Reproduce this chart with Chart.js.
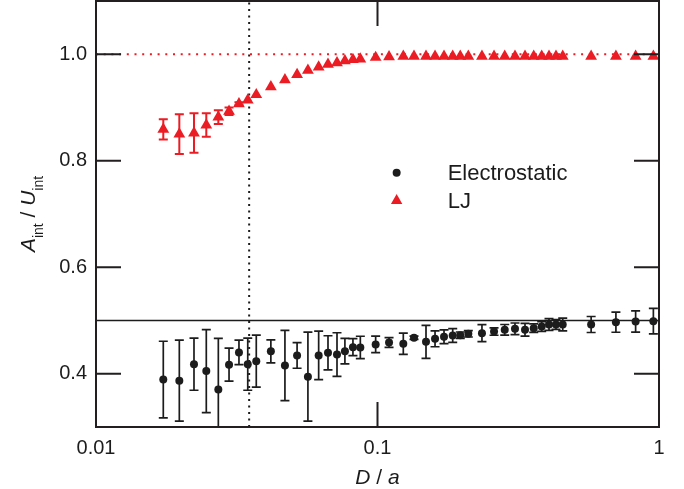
<!DOCTYPE html>
<html><head><meta charset="utf-8">
<script src="https://cdn.jsdelivr.net/npm/chart.js@4.4.1/dist/chart.umd.min.js"></script>
<style>html,body{margin:0;padding:0;background:#fff}canvas{display:block}</style>
</head><body>
<canvas id="c" width="684" height="489"></canvas>
<script>
// ---- data ----
const dOverA = [0.01734,0.01977,0.02229,0.02465,0.0272,0.02969,0.0322,0.0346,0.0371,0.0418,0.0469,0.0518,0.0566,0.0618,0.0667,0.0718,0.0766,0.0818,0.0869,0.0985,0.1099,
  0.1235,0.1348,0.1487,0.1601,0.1723,0.185,0.1968,0.2102,0.235,0.2594,0.2831,0.3079,0.3342,0.3589,0.3831,0.4067,0.4306,0.455,0.574,0.703,0.826,0.955];
const ljRatio = [0.859,0.850,0.852,0.867,0.882,0.893,0.907,0.914,0.924,0.939,0.952,0.962,0.970,0.976,0.981,0.984,0.9875,0.990,0.991,0.994,0.995,
  0.996,0.996,0.996,0.996,0.996,0.996,0.996,0.996,0.996,0.996,0.996,0.996,0.996,0.996,0.996,0.996,0.996,0.996,0.996,0.996,0.996,0.996];
const ljErr = [0.019,0.0375,0.037,0.022,0.013,0.007,0.003,0,0,0,0,0,0,0,0,0,0,0,0,0,0,
  0,0,0,0,0,0,0,0,0,0,0,0,0,0,0,0,0,0,0,0,0,0];
const elecRatio = [0.389,0.387,0.418,0.405,0.3705,0.417,0.440,0.418,0.4237,0.4422,0.4156,0.4343,0.3945,0.4345,0.4394,0.436,0.4424,0.450,0.4494,0.455,0.4587,
  0.4563,0.4675,0.460,0.4657,0.4694,0.4718,0.4724,0.475,0.4762,0.4793,0.4825,0.4843,0.4825,0.4856,0.4887,0.4925,0.4925,0.4925,0.4925,0.4969,0.498,0.4987];
const elecErr = [0.072,0.076,0.049,0.078,0.096,0.031,0.023,0.049,0.049,0.0216,0.066,0.024,0.0835,0.0455,0.032,0.041,0.024,0.016,0.021,0.0155,0.009,
  0.02,0.003,0.031,0.015,0.013,0.013,0.006,0.006,0.016,0.007,0.010,0.011,0.012,0.008,0.009,0.011,0.009,0.012,0.015,0.019,0.020,0.024];
const seriesNames = ['Electrostatic','LJ'];
const xTickLabels = [0.01, 0.1, 1];
const yTickLabels = [0.4, 0.6, 0.8, 1.0];
const ljLimit = 1.0;
const elecLimit = 0.5;
const dMarker = 0.035;
const xRange = [0.01, 1];
const yRange = [0.3, 1.1];

const RED = '#ec1c24';
const BLACK = '#1c1c1c';
const FONT = '"Liberation Sans", Arial, Helvetica, sans-serif';

const pts = (xs, ys) => xs.map((x, i) => ({x, y: ys[i]}));

const isLabelX = v => xTickLabels.some(t => Math.abs(t - v) / t < 1e-6);
const isLabelY = v => yTickLabels.some(t => Math.abs(t - v) < 1e-6);

const errorBars = {
  id: 'errorBars',
  beforeDatasetsDraw(chart) {
    const {ctx, chartArea: ca, scales: {x, y}} = chart;
    ctx.save();
    ctx.beginPath();
    ctx.rect(ca.left, ca.top, ca.right - ca.left, ca.bottom - ca.top);
    ctx.clip();
    const sets = [
      {ys: elecRatio, es: elecErr, color: BLACK, cap: 4.5, lw: 1.7},
      {ys: ljRatio, es: ljErr, color: RED, cap: 4.5, lw: 2}
    ];
    for (const s of sets) {
      ctx.strokeStyle = s.color;
      ctx.lineWidth = s.lw;
      dOverA.forEach((d, i) => {
        const e = s.es[i];
        if (!e) return;
        const px = x.getPixelForValue(d);
        const p1 = y.getPixelForValue(s.ys[i] + e);
        const p2 = y.getPixelForValue(s.ys[i] - e);
        ctx.beginPath();
        ctx.moveTo(px, p1); ctx.lineTo(px, p2);
        ctx.moveTo(px - s.cap, p1); ctx.lineTo(px + s.cap, p1);
        ctx.moveTo(px - s.cap, p2); ctx.lineTo(px + s.cap, p2);
        ctx.stroke();
      });
    }
    ctx.restore();
  }
};

const frame = {
  id: 'frame',
  afterDraw(chart) {
    const {ctx, chartArea: ca, scales: {x, y}} = chart;
    const {left, right, top, bottom} = ca;
    ctx.save();
    ctx.strokeStyle = '#231f20';
    ctx.lineWidth = 2;
    ctx.strokeRect(left, top, right - left, bottom - top);
    ctx.beginPath();
    for (const t of x.ticks) {
      const px = x.getPixelForValue(t.value);
      const L = isLabelX(t.value) ? 25 : 12;
      ctx.moveTo(px, bottom); ctx.lineTo(px, bottom - L);
      ctx.moveTo(px, top); ctx.lineTo(px, top + L);
    }
    for (const t of y.ticks) {
      const v = t.value;
      if (Math.abs(v - yRange[0]) < 1e-6 || Math.abs(v - yRange[1]) < 1e-6) continue;
      const py = y.getPixelForValue(v);
      const L = isLabelY(v) ? 25 : 12;
      ctx.moveTo(left, py); ctx.lineTo(left + L, py);
      ctx.moveTo(right, py); ctx.lineTo(right - L, py);
    }
    ctx.stroke();

    // axis titles
    ctx.fillStyle = BLACK;
    ctx.textBaseline = 'alphabetic';
    const big = '21px ' + FONT, bigI = 'italic 21px ' + FONT, small = '14px ' + FONT;
    const xParts = [['D', bigI, 0], [' / ', big, 0], ['a', bigI, 0]];
    drawParts(ctx, xParts, (left + right) / 2, 484);
    const yParts = [['A', bigI, 0], ['int', small, 8], [' / ', big, 0], ['U', bigI, 0], ['int', small, 8]];
    ctx.save();
    ctx.translate(35, (top + bottom) / 2);
    ctx.rotate(-Math.PI / 2);
    drawParts(ctx, yParts, 0, 0);
    ctx.restore();

    // legend
    const lx = left + (right - left) * 0.534;
    const ly1 = top + (bottom - top) * 0.403;
    const ly2 = ly1 + 28;
    ctx.fillStyle = BLACK;
    ctx.beginPath(); ctx.arc(lx, ly1, 4, 0, Math.PI * 2); ctx.fill();
    ctx.fillStyle = RED;
    const r = 6.6;
    ctx.beginPath();
    ctx.moveTo(lx, ly2 - r);
    ctx.lineTo(lx + r * Math.sin(2 * Math.PI / 3), ly2 + r * 0.5);
    ctx.lineTo(lx - r * Math.sin(2 * Math.PI / 3), ly2 + r * 0.5);
    ctx.closePath(); ctx.fill();
    ctx.fillStyle = BLACK;
    ctx.font = '22px ' + FONT;
    ctx.textAlign = 'left';
    ctx.fillText(seriesNames[0], lx + 51, ly1 + 7.8);
    ctx.fillText(seriesNames[1], lx + 51, ly2 + 7.8);
    ctx.restore();
  }
};

function drawParts(ctx, parts, cx, baseY) {
  let w = 0;
  for (const [t, f] of parts) { ctx.font = f; w += ctx.measureText(t).width; }
  let x = cx - w / 2;
  ctx.textAlign = 'left';
  for (const [t, f, dy] of parts) {
    ctx.font = f;
    ctx.fillText(t, x, baseY + dy);
    x += ctx.measureText(t).width;
  }
}

new Chart(document.getElementById('c'), {
  type: 'scatter',
  data: {
    datasets: [
      {label: seriesNames[0], data: pts(dOverA, elecRatio), pointStyle: 'circle', pointRadius: 4,
       backgroundColor: BLACK, borderWidth: 0, order: 1},
      {label: seriesNames[1], data: pts(dOverA, ljRatio), pointStyle: 'triangle', pointRadius: 6.8,
       backgroundColor: RED, borderWidth: 0, order: 2},
      {label: 'LJ limit', data: [{x: xRange[0], y: ljLimit}, {x: xRange[1], y: ljLimit}], showLine: true,
       borderColor: RED, borderWidth: 2, borderDash: [2, 5.7], pointRadius: 0, order: 10},
      {label: 'Electrostatic limit', data: [{x: xRange[0], y: elecLimit}, {x: xRange[1], y: elecLimit}], showLine: true,
       borderColor: BLACK, borderWidth: 1.6, pointRadius: 0, order: 9},
      {label: 'marker', data: [{x: dMarker, y: yRange[0]}, {x: dMarker, y: yRange[1]}], showLine: true,
       borderColor: BLACK, borderWidth: 2, borderDash: [2, 4.5], pointRadius: 0, order: 11}
    ]
  },
  options: {
    responsive: false,
    animation: false,
    devicePixelRatio: 1,
    layout: {autoPadding: false, padding: {top: 1, right: 25, left: 0, bottom: 0}},
    plugins: {legend: {display: false}, tooltip: {enabled: false}},
    scales: {
      x: {
        type: 'logarithmic', min: xRange[0], max: xRange[1],
        afterFit(s) { s.height = 62; s.paddingTop = 0; s.paddingBottom = 0; },
        grid: {display: false, drawTicks: false},
        border: {display: false},
        ticks: {
          autoSkip: false, maxRotation: 0, padding: 9, color: BLACK,
          font: {family: FONT, size: 20},
          callback: v => isLabelX(v) ? String(xTickLabels.find(t => Math.abs(t - v) / t < 1e-6)) : null
        }
      },
      y: {
        min: yRange[0], max: yRange[1],
        afterFit(s) { s.width = 96; s.paddingTop = 0; s.paddingBottom = 0; },
        grid: {display: false, drawTicks: false},
        border: {display: false},
        ticks: {
          stepSize: 0.1, autoSkip: false, padding: 9, color: BLACK,
          font: {family: FONT, size: 20},
          callback: v => isLabelY(v) ? Number(v).toFixed(1) : null
        }
      }
    }
  },
  plugins: [errorBars, frame]
});
</script>
</body></html>
